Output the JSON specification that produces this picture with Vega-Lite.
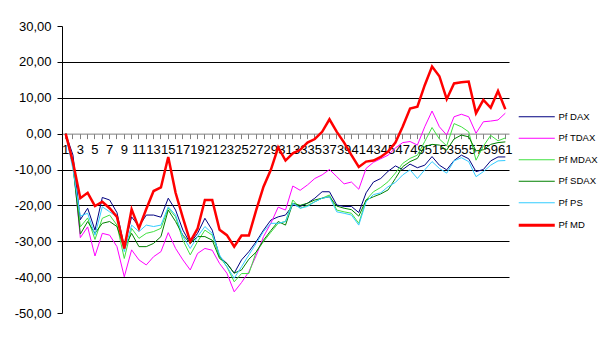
{
  "$schema": "https://vega.github.io/schema/vega-lite/v6.json",
  "width": 447,
  "height": 287,
  "autosize": "none",
  "padding": {"left": 62, "top": 26, "right": 106, "bottom": 26},
  "background": "white",
  "config": {"view": {"stroke": null}, "font": "Liberation Sans"},
  "data": {"values": [
    {"n":1,"Pf DAX":0,"Pf TDAX":0,"Pf MDAX":0,"Pf SDAX":0,"Pf PS":0,"Pf MD":0},
    {"n":2,"Pf DAX":-6,"Pf TDAX":-8,"Pf MDAX":-9,"Pf SDAX":-9,"Pf PS":-10,"Pf MD":-8},
    {"n":3,"Pf DAX":-24,"Pf TDAX":-29,"Pf MDAX":-26,"Pf SDAX":-28,"Pf PS":-23,"Pf MD":-18},
    {"n":4,"Pf DAX":-20.8,"Pf TDAX":-26,"Pf MDAX":-23.5,"Pf SDAX":-24.5,"Pf PS":-22.2,"Pf MD":-16.5},
    {"n":5,"Pf DAX":-26.9,"Pf TDAX":-34.1,"Pf MDAX":-29.5,"Pf SDAX":-27.8,"Pf PS":-28.3,"Pf MD":-20.2},
    {"n":6,"Pf DAX":-17.8,"Pf TDAX":-27.8,"Pf MDAX":-23.6,"Pf SDAX":-25,"Pf PS":-20.4,"Pf MD":-19},
    {"n":7,"Pf DAX":-18.5,"Pf TDAX":-28.3,"Pf MDAX":-22.7,"Pf SDAX":-24.5,"Pf PS":-21.8,"Pf MD":-20.8},
    {"n":8,"Pf DAX":-22,"Pf TDAX":-31.5,"Pf MDAX":-25.5,"Pf SDAX":-25.9,"Pf PS":-23.2,"Pf MD":-23.2},
    {"n":9,"Pf DAX":-31.5,"Pf TDAX":-39.9,"Pf MDAX":-34.8,"Pf SDAX":-32,"Pf PS":-32.9,"Pf MD":-32},
    {"n":10,"Pf DAX":-23.2,"Pf TDAX":-32.4,"Pf MDAX":-26.4,"Pf SDAX":-27.8,"Pf PS":-25.5,"Pf MD":-21.1},
    {"n":11,"Pf DAX":-25.9,"Pf TDAX":-35.2,"Pf MDAX":-29.2,"Pf SDAX":-31.5,"Pf PS":-27.3,"Pf MD":-26.4},
    {"n":12,"Pf DAX":-22.7,"Pf TDAX":-36.6,"Pf MDAX":-27.8,"Pf SDAX":-31.5,"Pf PS":-25.5,"Pf MD":-21},
    {"n":13,"Pf DAX":-22.7,"Pf TDAX":-34.3,"Pf MDAX":-27.3,"Pf SDAX":-30.6,"Pf PS":-25.9,"Pf MD":-16},
    {"n":14,"Pf DAX":-23.3,"Pf TDAX":-32.9,"Pf MDAX":-26.4,"Pf SDAX":-28.7,"Pf PS":-25.5,"Pf MD":-15},
    {"n":15,"Pf DAX":-18,"Pf TDAX":-27.6,"Pf MDAX":-20.8,"Pf SDAX":-21.3,"Pf PS":-20.4,"Pf MD":-6.5},
    {"n":16,"Pf DAX":-21.3,"Pf TDAX":-32,"Pf MDAX":-23.2,"Pf SDAX":-24.5,"Pf PS":-22.7,"Pf MD":-16.5},
    {"n":17,"Pf DAX":-26.9,"Pf TDAX":-35.2,"Pf MDAX":-29.7,"Pf SDAX":-28.3,"Pf PS":-28.7,"Pf MD":-23.5},
    {"n":18,"Pf DAX":-30.6,"Pf TDAX":-38,"Pf MDAX":-33.8,"Pf SDAX":-30.6,"Pf PS":-32,"Pf MD":-30.1},
    {"n":19,"Pf DAX":-27.8,"Pf TDAX":-33.4,"Pf MDAX":-30.1,"Pf SDAX":-28.7,"Pf PS":-28.7,"Pf MD":-26.5},
    {"n":20,"Pf DAX":-23.6,"Pf TDAX":-32,"Pf MDAX":-26.9,"Pf SDAX":-28.7,"Pf PS":-25.9,"Pf MD":-18.5},
    {"n":21,"Pf DAX":-26.9,"Pf TDAX":-32.5,"Pf MDAX":-28.3,"Pf SDAX":-29.7,"Pf PS":-27.8,"Pf MD":-18.5},
    {"n":22,"Pf DAX":-34.3,"Pf TDAX":-36.2,"Pf MDAX":-34.3,"Pf SDAX":-34.8,"Pf PS":-33.8,"Pf MD":-26.8},
    {"n":23,"Pf DAX":-36.2,"Pf TDAX":-38.9,"Pf MDAX":-37.1,"Pf SDAX":-36.2,"Pf PS":-37.1,"Pf MD":-28.3},
    {"n":24,"Pf DAX":-38.9,"Pf TDAX":-44.1,"Pf MDAX":-41.3,"Pf SDAX":-38.9,"Pf PS":-40.3,"Pf MD":-31.5},
    {"n":25,"Pf DAX":-35.2,"Pf TDAX":-41.5,"Pf MDAX":-39,"Pf SDAX":-38,"Pf PS":-37.1,"Pf MD":-28.4},
    {"n":26,"Pf DAX":-32.9,"Pf TDAX":-38.5,"Pf MDAX":-39,"Pf SDAX":-35,"Pf PS":-33.8,"Pf MD":-28.4},
    {"n":27,"Pf DAX":-30.1,"Pf TDAX":-34,"Pf MDAX":-33,"Pf SDAX":-33,"Pf PS":-30.6,"Pf MD":-21.3},
    {"n":28,"Pf DAX":-26.9,"Pf TDAX":-28.7,"Pf MDAX":-30.1,"Pf SDAX":-29.7,"Pf PS":-27.3,"Pf MD":-14.8},
    {"n":29,"Pf DAX":-24.1,"Pf TDAX":-25,"Pf MDAX":-27.5,"Pf SDAX":-27,"Pf PS":-25,"Pf MD":-10.1},
    {"n":30,"Pf DAX":-23.2,"Pf TDAX":-20.5,"Pf MDAX":-25,"Pf SDAX":-24.5,"Pf PS":-25,"Pf MD":-3.8},
    {"n":31,"Pf DAX":-22.7,"Pf TDAX":-21.3,"Pf MDAX":-24.5,"Pf SDAX":-25.5,"Pf PS":-24.5,"Pf MD":-7.5},
    {"n":32,"Pf DAX":-19.9,"Pf TDAX":-14.6,"Pf MDAX":-18.5,"Pf SDAX":-19.4,"Pf PS":-19.4,"Pf MD":-5.5},
    {"n":33,"Pf DAX":-20.3,"Pf TDAX":-15.8,"Pf MDAX":-20.8,"Pf SDAX":-20,"Pf PS":-20.8,"Pf MD":-4.5},
    {"n":34,"Pf DAX":-19.4,"Pf TDAX":-14.3,"Pf MDAX":-20,"Pf SDAX":-19.4,"Pf PS":-20.3,"Pf MD":-2.5},
    {"n":35,"Pf DAX":-18,"Pf TDAX":-12.5,"Pf MDAX":-19,"Pf SDAX":-18.5,"Pf PS":-19,"Pf MD":-1.5},
    {"n":36,"Pf DAX":-16.2,"Pf TDAX":-11.5,"Pf MDAX":-18,"Pf SDAX":-18,"Pf PS":-18,"Pf MD":0.5},
    {"n":37,"Pf DAX":-16.2,"Pf TDAX":-10,"Pf MDAX":-17.1,"Pf SDAX":-17.6,"Pf PS":-17.6,"Pf MD":4},
    {"n":38,"Pf DAX":-19.9,"Pf TDAX":-12,"Pf MDAX":-21.3,"Pf SDAX":-20.2,"Pf PS":-21.8,"Pf MD":0.5},
    {"n":39,"Pf DAX":-20.3,"Pf TDAX":-14,"Pf MDAX":-21.8,"Pf SDAX":-20.8,"Pf PS":-22.2,"Pf MD":-2.5},
    {"n":40,"Pf DAX":-20.3,"Pf TDAX":-13.5,"Pf MDAX":-22.2,"Pf SDAX":-21.2,"Pf PS":-22.7,"Pf MD":-6},
    {"n":41,"Pf DAX":-22,"Pf TDAX":-15.5,"Pf MDAX":-25,"Pf SDAX":-23,"Pf PS":-25.5,"Pf MD":-9.3},
    {"n":42,"Pf DAX":-16.5,"Pf TDAX":-9.7,"Pf MDAX":-18.5,"Pf SDAX":-18.5,"Pf PS":-19,"Pf MD":-7.8},
    {"n":43,"Pf DAX":-13.5,"Pf TDAX":-8,"Pf MDAX":-16.2,"Pf SDAX":-17.6,"Pf PS":-17,"Pf MD":-7.5},
    {"n":44,"Pf DAX":-12.5,"Pf TDAX":-7,"Pf MDAX":-15,"Pf SDAX":-16.8,"Pf PS":-16.5,"Pf MD":-6.5},
    {"n":45,"Pf DAX":-10.5,"Pf TDAX":-6,"Pf MDAX":-13.4,"Pf SDAX":-15.7,"Pf PS":-14.8,"Pf MD":-5},
    {"n":46,"Pf DAX":-9,"Pf TDAX":-4,"Pf MDAX":-11,"Pf SDAX":-12.5,"Pf PS":-13.6,"Pf MD":-2.5},
    {"n":47,"Pf DAX":-10,"Pf TDAX":-2.5,"Pf MDAX":-8.3,"Pf SDAX":-9.2,"Pf PS":-11.5,"Pf MD":2},
    {"n":48,"Pf DAX":-8.5,"Pf TDAX":-2.2,"Pf MDAX":-6.9,"Pf SDAX":-7.8,"Pf PS":-10.1,"Pf MD":7},
    {"n":49,"Pf DAX":-9.5,"Pf TDAX":-3.2,"Pf MDAX":-6,"Pf SDAX":-6.9,"Pf PS":-12.5,"Pf MD":7.5},
    {"n":50,"Pf DAX":-8.8,"Pf TDAX":1.9,"Pf MDAX":-2.2,"Pf SDAX":-3.6,"Pf PS":-10.1,"Pf MD":13.5},
    {"n":51,"Pf DAX":-6.4,"Pf TDAX":6.3,"Pf MDAX":1.7,"Pf SDAX":-3,"Pf PS":-7.8,"Pf MD":18.7},
    {"n":52,"Pf DAX":-8.8,"Pf TDAX":1.9,"Pf MDAX":-1.5,"Pf SDAX":-3.2,"Pf PS":-9.7,"Pf MD":16},
    {"n":53,"Pf DAX":-10.1,"Pf TDAX":-0.4,"Pf MDAX":-3.4,"Pf SDAX":-4.6,"Pf PS":-11,"Pf MD":9.6},
    {"n":54,"Pf DAX":-7.5,"Pf TDAX":4.7,"Pf MDAX":2.8,"Pf SDAX":-1.5,"Pf PS":-7.6,"Pf MD":14},
    {"n":55,"Pf DAX":-6,"Pf TDAX":5.4,"Pf MDAX":1.9,"Pf SDAX":-0.4,"Pf PS":-6.7,"Pf MD":14.3},
    {"n":56,"Pf DAX":-7,"Pf TDAX":4.7,"Pf MDAX":0.5,"Pf SDAX":-0.9,"Pf PS":-7.8,"Pf MD":14.5},
    {"n":57,"Pf DAX":-10.6,"Pf TDAX":0.1,"Pf MDAX":-7.4,"Pf SDAX":-4.8,"Pf PS":-12,"Pf MD":5.7},
    {"n":58,"Pf DAX":-10,"Pf TDAX":3.3,"Pf MDAX":-3.5,"Pf SDAX":-4.5,"Pf PS":-10.6,"Pf MD":9.4},
    {"n":59,"Pf DAX":-7.6,"Pf TDAX":3.5,"Pf MDAX":-0.5,"Pf SDAX":-3,"Pf PS":-8.8,"Pf MD":7.2},
    {"n":60,"Pf DAX":-6.5,"Pf TDAX":3.8,"Pf MDAX":-2,"Pf SDAX":-2.5,"Pf PS":-7.6,"Pf MD":11.9},
    {"n":61,"Pf DAX":-6.5,"Pf TDAX":5.7,"Pf MDAX":-1.2,"Pf SDAX":-2.3,"Pf PS":-7.5,"Pf MD":6.8}
  ]},
  "transform": [
    {"fold": ["Pf DAX", "Pf TDAX", "Pf MDAX", "Pf SDAX", "Pf PS", "Pf MD"], "as": ["series", "value"]}
  ],
  "encoding": {
    "x": {
      "field": "n", "type": "ordinal",
      "scale": {"type": "band", "paddingInner": 0, "paddingOuter": 0},
      "axis": {
        "orient": "bottom", "offset": -179.375, "title": null, "grid": false,
        "domainColor": "#808080", "tickColor": "#808080", "tickSize": 5,
        "labelAngle": 0, "labelFontSize": 13, "labelPadding": 5, "labelOverlap": false,
        "labelColor": "black", "labelFont": "Liberation Sans",
        "labelExpr": "datum.value % 2 == 1 ? datum.label : ''"
      }
    },
    "y": {
      "field": "value", "type": "quantitative",
      "scale": {"domain": [-50, 30], "nice": false, "zero": false},
      "axis": {
        "values": [-50, -40, -30, -20, -10, 0, 10, 20, 30],
        "title": null, "grid": true,
        "gridColor": {"condition": {"test": "datum.value == 30 || datum.value == -50 || datum.value == 0", "value": "transparent"}, "value": "black"},
        "domainColor": "black", "tickColor": "black", "tickSize": 5, "labelPadding": 6,
        "labelFontSize": 13, "labelColor": "black", "labelFont": "Liberation Sans",
        "labelExpr": "(datum.value < 0 ? '-' : '') + replace(format(abs(datum.value), '.2f'), '.', ',')"
      }
    },
    "color": {
      "field": "series", "type": "nominal",
      "scale": {"domain": ["Pf DAX", "Pf TDAX", "Pf MDAX", "Pf SDAX", "Pf PS", "Pf MD"],
                "range": ["#000080", "#FF00FF", "#40E040", "#008000", "#33CCFF", "#FF0000"]},
      "legend": {
        "title": null, "orient": "none", "legendX": 470, "legendY": 86,
        "symbolType": "stroke", "symbolSize": 1300, "labelFontSize": 9.5,
        "labelFont": "Liberation Sans", "labelColor": "black", "rowPadding": 10.5, "labelOffset": 17,
        "encode": {"symbols": {"update": {"strokeWidth": {"signal": "datum.value == 'Pf MD' ? 3 : 1"}}}}
      }
    }
  },
  "layer": [
    {
      "transform": [{"filter": "datum.series != 'Pf MD'"}],
      "mark": {"type": "line", "strokeWidth": 1}
    },
    {
      "transform": [{"filter": "datum.series == 'Pf MD'"}],
      "mark": {"type": "line", "strokeWidth": 2.5}
    }
  ]
}
